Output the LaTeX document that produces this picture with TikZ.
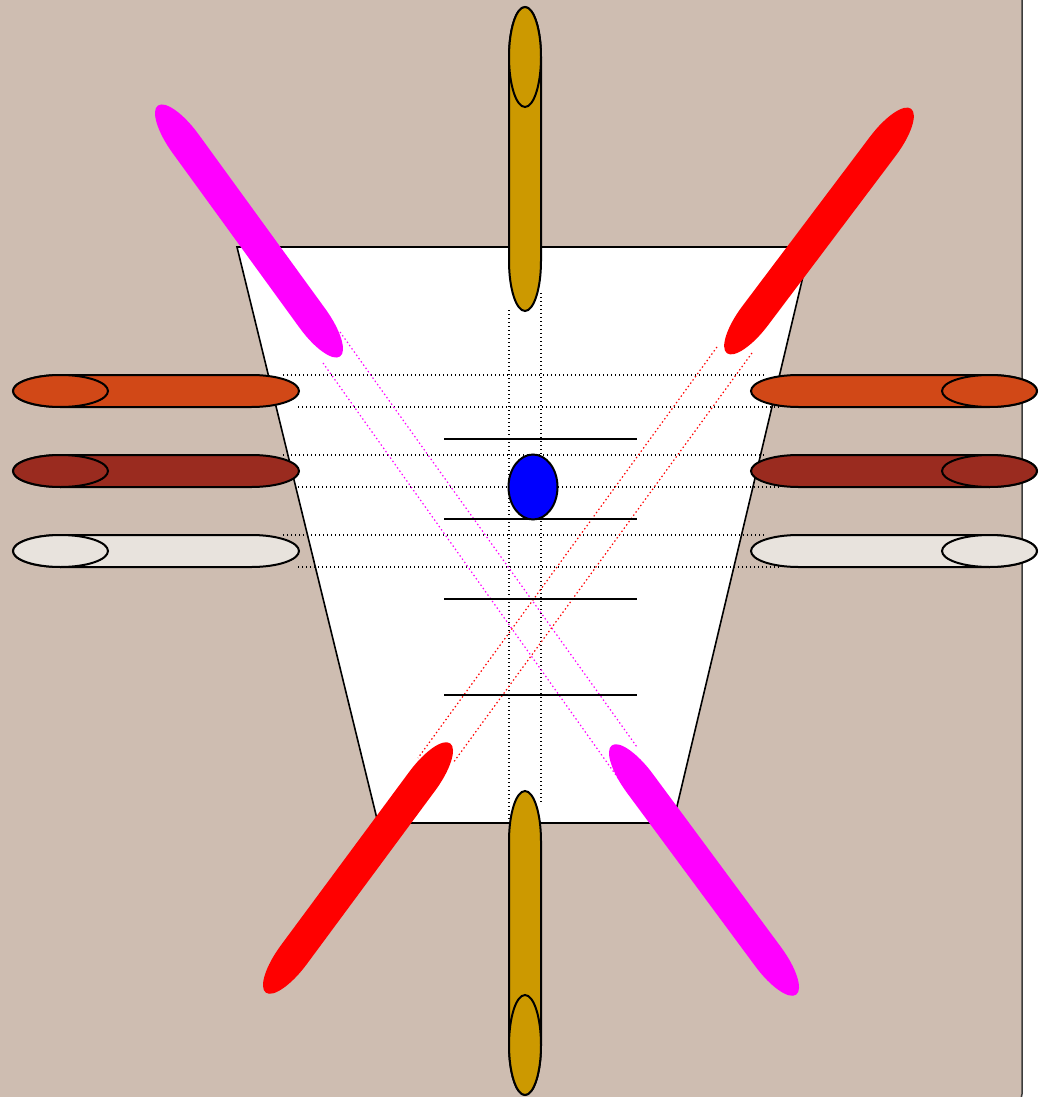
\documentclass[tikz,border=0pt]{standalone}
\definecolor{bgtan}{RGB}{206,189,177}
\definecolor{frameg}{RGB}{60,60,60}
\definecolor{capor}{RGB}{209,72,23}
\definecolor{capdr}{RGB}{154,43,31}
\definecolor{caplt}{RGB}{232,227,221}
\definecolor{capgd}{RGB}{204,153,0}
\definecolor{fuchsia}{RGB}{255,0,255}
\definecolor{pured}{RGB}{255,0,0}
\tikzset{
  guide/.style={line width=1.2pt, dash pattern=on 1.4pt off 2.6pt},
  rung/.style={line width=2pt, draw=black},
  capline/.style={line width=2pt, draw=black},
}
% capsule body: cx, cy, angle, half body length, end radius, style
\newcommand{\capbody}[6]{%
  \path[#6, shift={(#1,#2)}, rotate=#3]
    (-#4,-16) -- (#4,-16)
    arc[start angle=-90, end angle=90, x radius=#5, y radius=16]
    -- (-#4,16)
    arc[start angle=90, end angle=270, x radius=#5, y radius=16] -- cycle;}
% end ellipse: cx, cy, angle, local offset, end radius, style
\newcommand{\capend}[6]{%
  \path[#6, shift={(#1,#2)}, rotate=#3] (#4,0) ellipse [x radius=#5, y radius=16];}
\begin{document}
\begin{tikzpicture}[x=1pt, y=-1pt]
  \useasboundingbox (0,0) rectangle (1049,1097);
  \fill[white] (0,0) rectangle (1049,1097);
  \filldraw[fill=bgtan, draw=frameg, line width=1.5pt, rounded corners=10pt]
    (-30,-30) rectangle (1022,1104);

  % trapezoid
  \filldraw[fill=white, draw=black, line width=1.6pt]
    (237,247) -- (810,247) -- (673,823) -- (378,823) -- cycle;

  % horizontal guides
  \foreach \dy in {0,80,160} {
    \draw[guide] (283,375+\dy) -- (765,375+\dy);
    \draw[guide] (298,407+\dy) -- (780,407+\dy);
  }
  % vertical guides
  \draw[guide] (509,310) -- (509,820);
  \draw[guide] (541,293) -- (541,803);
  % diagonal guides
  \draw[guide, fuchsia] (340,332) -- (637,747);
  \draw[guide, fuchsia] (323,363) -- (618,778);
  \draw[guide, pured] (717,347) -- (418,758);
  \draw[guide, pured] (752,353) -- (453,763);

  % rungs
  \foreach \yy in {439,519,599,695} {
    \draw[rung] (444,\yy) -- (637,\yy);
  }

  % blue ellipse
  \filldraw[fill=blue, draw=black, line width=2pt]
    (533,487) ellipse [x radius=24.5, y radius=32.5];

  % diagonal capsules (fill only)
  \capbody{249}{231}{-54}{108}{47}{fill=fuchsia}
  \capbody{819}{231}{53}{106}{47}{fill=pured}
  \capbody{358}{868}{53.5}{108}{47}{fill=pured}
  \capbody{704}{870}{-53.5}{108}{47}{fill=fuchsia}

  % horizontal capsules, left
  \capbody{156}{391}{0}{95.5}{47.5}{fill=capor, capline}
  \capend{156}{391}{0}{-95.5}{47.5}{fill=capor, capline}
  \capbody{156}{471}{0}{95.5}{47.5}{fill=capdr, capline}
  \capend{156}{471}{0}{-95.5}{47.5}{fill=capdr, capline}
  \capbody{156}{551}{0}{95.5}{47.5}{fill=caplt, capline}
  \capend{156}{551}{0}{-95.5}{47.5}{fill=caplt, capline}
  % horizontal capsules, right
  \capbody{894}{391}{0}{95.5}{47.5}{fill=capor, capline}
  \capend{894}{391}{0}{95.5}{47.5}{fill=capor, capline}
  \capbody{894}{471}{0}{95.5}{47.5}{fill=capdr, capline}
  \capend{894}{471}{0}{95.5}{47.5}{fill=capdr, capline}
  \capbody{894}{551}{0}{95.5}{47.5}{fill=caplt, capline}
  \capend{894}{551}{0}{95.5}{47.5}{fill=caplt, capline}

  % vertical capsules
  \capbody{525}{159}{-90}{102}{50}{fill=capgd, capline}
  \capend{525}{159}{-90}{-102}{50}{fill=capgd, capline}
  \capbody{525}{943}{-90}{102}{50}{fill=capgd, capline}
  \capend{525}{943}{-90}{102}{50}{fill=capgd, capline}
\end{tikzpicture}
\end{document}
